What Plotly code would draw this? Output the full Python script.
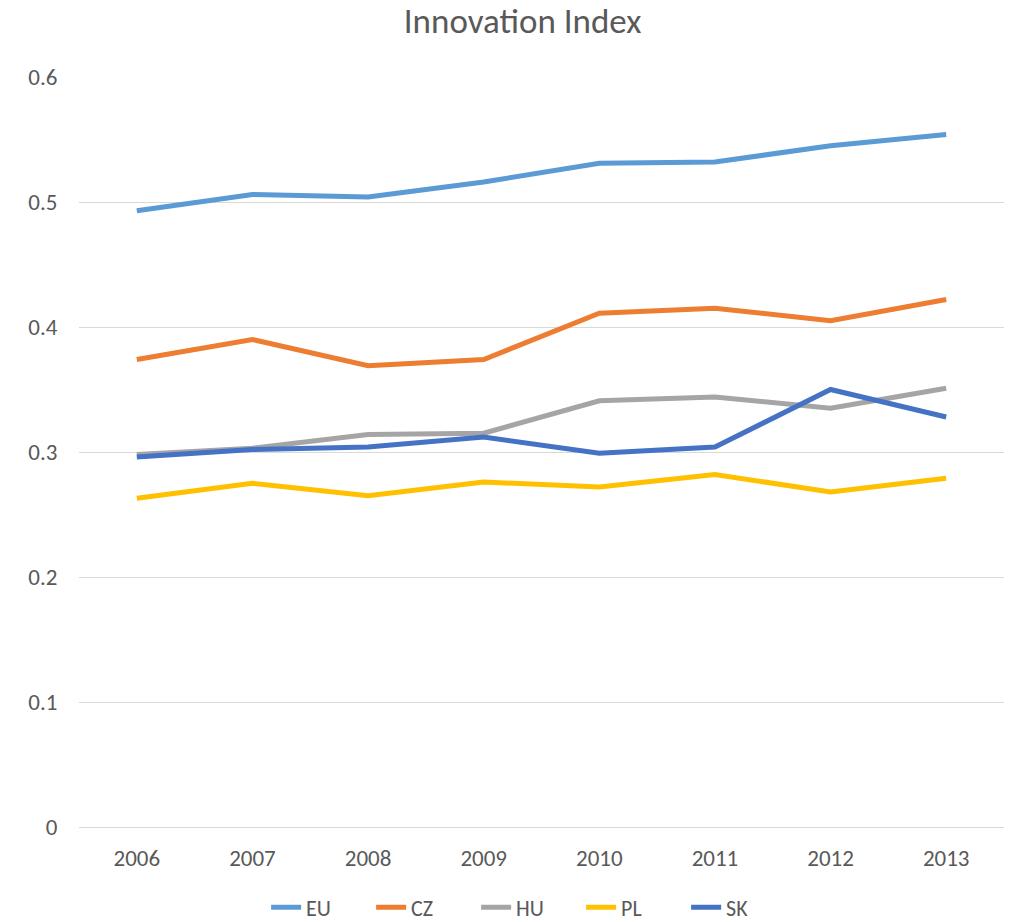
import plotly.graph_objects as go

years = ["2006", "2007", "2008", "2009", "2010", "2011", "2012", "2013"]
eu = [0.493, 0.506, 0.504, 0.516, 0.531, 0.532, 0.545, 0.554]
cz = [0.374, 0.390, 0.369, 0.374, 0.411, 0.415, 0.405, 0.422]
hu = [0.298, 0.303, 0.314, 0.315, 0.341, 0.344, 0.335, 0.351]
pl = [0.263, 0.275, 0.265, 0.276, 0.272, 0.282, 0.268, 0.279]
sk = [0.296, 0.302, 0.304, 0.312, 0.299, 0.304, 0.350, 0.328]

series = [
    ("EU", eu, "#5B9BD5"),
    ("CZ", cz, "#ED7D31"),
    ("HU", hu, "#A5A5A5"),
    ("PL", pl, "#FFC000"),
    ("SK", sk, "#4472C4"),
]

fig = go.Figure()
for name, vals, color in series:
    fig.add_trace(go.Scatter(
        x=years, y=vals, name=name, mode="lines",
        line=dict(color=color, width=5),
    ))

font = "Carlito, Calibri, Lato, sans-serif"
fig.update_layout(
    width=1007, height=914,
    paper_bgcolor="white", plot_bgcolor="white",
    margin=dict(l=71, r=11, t=69, b=95, autoexpand=False),
    title=dict(text="Innovation Index", x=0.511, xanchor="center", xref="container",
               y=0.999, yanchor="top", yref="container", pad=dict(t=0, b=0),
               font=dict(family=font, size=35, color="#595959")),
    font=dict(family=font, size=23, color="#595959"),
    showlegend=True,
    legend=dict(orientation="h", x=0.517, xanchor="center", xref="container",
                y=0.016, yanchor="middle", yref="container",
                font=dict(size=22, color="#595959"),
                traceorder="normal", entrywidth=60, entrywidthmode="pixels"),
)
fig.update_xaxes(type="category", range=[-0.5, 7.5], showgrid=False,
                 showline=True, linecolor="#d9d9d9", linewidth=1, automargin=False,
                 ticks="", ticklabelstandoff=10, tickfont=dict(size=23, color="#595959"))
fig.update_yaxes(range=[0, 0.6], dtick=0.1, tickformat="~g", showgrid=True,
                 gridcolor="#d9d9d9", gridwidth=1, zeroline=False, showline=False,
                 ticks="outside", ticklen=16, tickcolor="white", automargin=False,
                 tickfont=dict(size=23, color="#595959"))
fig.write_html("out.html")
